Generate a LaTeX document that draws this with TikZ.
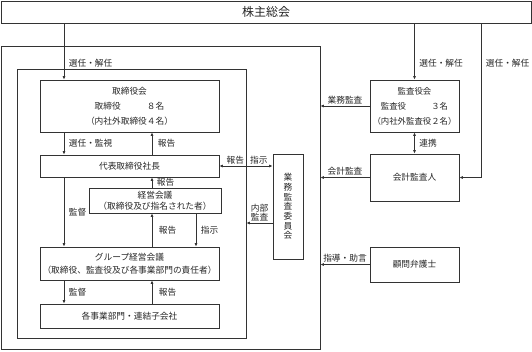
\documentclass[tikz,border=0pt]{standalone}
\usepackage{fontspec}
\setmainfont{Noto Sans CJK JP}
\usetikzlibrary{arrows.meta,positioning,calc}

\begin{document}
\begin{tikzpicture}[
  x=1pt,y=-1pt,
  every node/.style={font=\fontsize{8.7}{12}\selectfont, text=black!85},
  box/.style={draw=black!80, line width=0.7pt, inner sep=0pt, align=center},
  frame/.style={draw=black!80, line width=0.7pt, inner sep=0pt},
  arr/.style={-{Latex[length=3.5pt,width=3pt]}, draw=black!80, line width=0.7pt},
  darr/.style={{Latex[length=3.5pt,width=3pt]}-{Latex[length=3.5pt,width=3pt]}, draw=black!80, line width=0.7pt},
  lbl/.style={inner sep=1.5pt}
]
\useasboundingbox (0,0) rectangle (532,351);
% frames
\node[frame, minimum width=319pt, minimum height=303pt] (group) at (160.5,197.5) {};
\node[frame, minimum width=229pt, minimum height=269pt] (naibu) at (131.5,203.5) {};
% boxes
\node[box, minimum width=530pt, minimum height=22pt, font=\fontsize{12}{14}\selectfont] (soukai) at (266,12) {株主総会};
\node[box, minimum width=179pt, minimum height=52pt, font=\fontsize{8.7}{15}\selectfont] (tori) at (129.5,106) {取締役会\\取締役　　　８名\\（内社外取締役４名）};
\node[box, minimum width=179pt, minimum height=22pt] (daihyo) at (129.5,166) {代表取締役社長};
\node[box, minimum width=132pt, minimum height=25pt, font=\fontsize{8.7}{11}\selectfont] (keiei) at (155,200.5) {経営会議\\（取締役及び指名された者）};
\node[box, minimum width=179pt, minimum height=33pt, font=\fontsize{8.7}{13}\selectfont] (gkeiei) at (129.5,263.5) {グループ経営会議\\（取締役、監査役及び各事業部門の責任者）};
\node[box, minimum width=179pt, minimum height=24pt] (jigyo) at (129.5,316) {各事業部門・連結子会社};
\node[box, minimum width=30pt, minimum height=105pt, font=\fontsize{8.7}{9.7}\selectfont] (gyomu) at (288,206.5) {業\\務\\監\\査\\委\\員\\会};
\node[box, minimum width=89pt, minimum height=52pt, font=\fontsize{8.4}{15}\selectfont] (kansayaku) at (414.5,106) {監査役会\\監査役　　　３名\\（内社外監査役２名）};
\node[box, minimum width=89pt, minimum height=47pt] (kaikei) at (414.5,177.5) {会計監査人};
\node[box, minimum width=89pt, minimum height=35pt] (bengo) at (414.5,264.5) {顧問弁護士};
% columns
\coordinate (lc) at (64,0);
\coordinate (mc) at (152,0);
\coordinate (rc) at (196,0);
\coordinate (fc) at (481,0);
\coordinate (ny) at (0,223);
% left side
\draw[arr] (lc |- soukai.south) -- node[lbl,right=3pt,pos=0.7] (t1) {選任・解任} (lc |- tori.north);
\draw[arr] (lc |- tori.south) -- node[lbl,right=3pt] (t2) {選任・監視} (lc |- daihyo.north);
\draw[arr] (mc |- daihyo.north) -- node[lbl,right=4pt] (t3) {報告} (mc |- tori.south);
\draw[arr] (lc |- daihyo.south) -- node[lbl,right=3pt] (t4) {監督} (lc |- gkeiei.north);
\draw[arr] (mc |- keiei.north) -- node[lbl,right=3pt] (t5) {報告} (mc |- daihyo.south);
\draw[arr] (mc |- gkeiei.north) -- node[lbl,right=5pt] (t6) {報告} (mc |- keiei.south);
\draw[arr] (rc |- keiei.south) -- node[lbl,right=3pt] (t7) {指示} (rc |- gkeiei.north);
\draw[arr] (lc |- gkeiei.south) -- node[lbl,right=3pt] (t8) {監督} (lc |- jigyo.north);
\draw[arr] (mc |- jigyo.north) -- node[lbl,right=5pt] (t9) {報告} (mc |- gkeiei.south);
\draw[darr] (daihyo.east) -- node[lbl,above,pos=0.3] (t10) {報告} node[lbl,above,pos=0.74] (t11) {指示} (gyomu.west |- daihyo.east);
\draw[arr] (gyomu.west |- ny) -- node[lbl,above,align=center,font=\fontsize{8.7}{9.5}\selectfont] (t12) {内部\\監査} (naibu.east |- ny);
% right side
\draw[arr] (kansayaku.north |- soukai.south) -- node[lbl,right=3pt,pos=0.7] (t13) {選任・解任} (kansayaku.north);
\draw[arr] (fc |- soukai.south) -- node[lbl,right=3pt,pos=0.26] (t14) {選任・解任} (fc |- kaikei.east) -- (kaikei.east);
\draw[arr] (kansayaku.west) -- node[lbl,above] (t15) {業務監査} (kansayaku.west -| group.east);
\draw[darr] (kansayaku.south) -- node[lbl,right=3pt] (t16) {連携} (kaikei.north);
\draw[arr] (kaikei.west) -- node[lbl,above] (t17) {会計監査} (kaikei.west -| group.east);
\draw[arr] (bengo.west) -- node[lbl,above] (t18) {指導・助言} (bengo.west -| group.east);
\end{tikzpicture}
\end{document}
